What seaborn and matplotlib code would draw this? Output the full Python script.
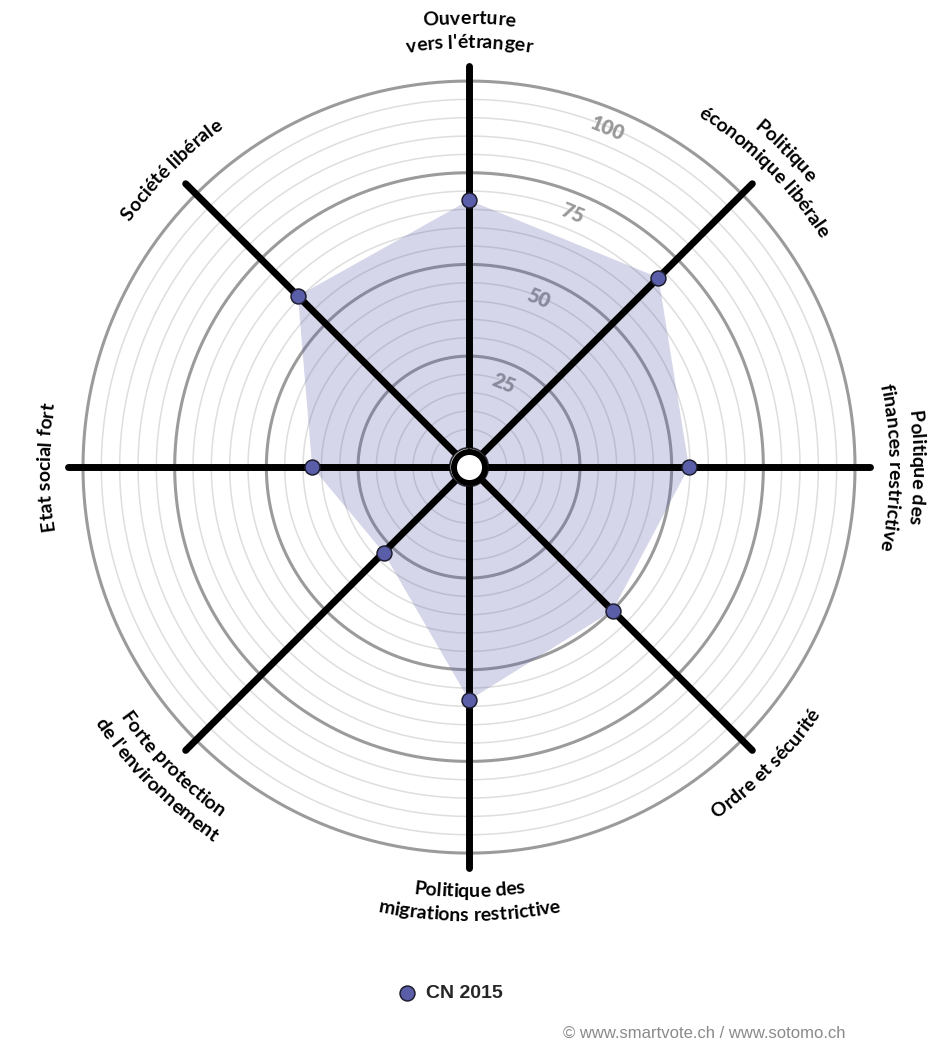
import numpy as np
import matplotlib
matplotlib.use('Agg')
import matplotlib.pyplot as plt
import seaborn as sns
import pandas as pd
from matplotlib.font_manager import FontProperties, findfont, get_font

# ── data ──────────────────────────────────────────
axis_labels = [
    ["Ouverture", "vers l'étranger"],
    ["Politique", "économique libérale"],
    ["Politique des", "finances restrictive"],
    ["Ordre et sécurité"],
    ["Politique des", "migrations restrictive"],
    ["Forte protection", "de l'environnement"],
    ["Etat social fort"],
    ["Société libérale"],
]
axis_angles = [0, 45, 90, 135, 180, 225, 270, 315]   # compass degrees
cn_2015 = [67.5, 67.8, 54.7, 50.1, 58.3, 27.7, 37.5, 60.7]
series_name = "CN 2015"
minor_rings = list(range(5, 101, 5))
major_rings = [25, 50, 75, 100]
ring_labels = ["25", "50", "75", "100"]
credit = "© www.smartvote.ch / www.sotomo.ch"

# ── style ─────────────────────────────────────────
sns.set_theme(style="white")
plt.rcParams['font.family'] = ['Lato', 'DejaVu Sans']

POINT_COLOR = "#5a5da8"
R_ORIGIN = -5.26
R_MAX = 106
SPOKE_END = 104
AX_W = 0.8709

fig = plt.figure(figsize=(9.37, 10.62), dpi=100)
ax = fig.add_axes([0.0651, 0.1760, AX_W, 0.7684], projection='polar')
ax.set_theta_zero_location('N')
ax.set_theta_direction(-1)
ax.set_rlim(0, R_MAX)
ax.set_rorigin(R_ORIGIN)
ax.set_xticks([])
ax.set_yticks([])
ax.grid(False)
ax.spines['polar'].set_visible(False)
ax.set_facecolor('none')

# rings
full = np.linspace(0, 2 * np.pi, 721)
for v in minor_rings:
    if v in major_rings:
        continue
    ax.plot(full, np.full_like(full, v), color='#dedede', lw=1.1, zorder=1)
for v in major_rings:
    ax.plot(full, np.full_like(full, v), color='#9b9b9b', lw=2.2, zorder=2)

# ring value labels
for v, lab in zip(major_rings, ring_labels):
    ax.text(np.radians(22.3), v - 5.6, lab, rotation=-22.3, rotation_mode='anchor',
            ha='center', va='center', color='#999999', fontsize=14.5,
            fontweight='heavy', zorder=2)

# filled area
theta = np.radians(axis_angles)
ax.fill(np.append(theta, theta[0]), np.append(cn_2015, cn_2015[0]),
        color=POINT_COLOR, alpha=0.25, lw=0, zorder=3)

# spokes
for t in theta:
    ax.plot([t, t], [0, SPOKE_END], color='black', lw=5, solid_capstyle='round', zorder=4)

# points
df = pd.DataFrame({"theta": theta, "value": cn_2015})
sns.scatterplot(data=df, x="theta", y="value", ax=ax, s=115, color=POINT_COLOR,
                edgecolor='#1e1e30', linewidth=1.1, zorder=5, label=series_name,
                legend=False)
ax.set_xlabel("")
ax.set_ylabel("")

# centre hole
ax.scatter(0.5, 0.5, s=500, facecolor='white', edgecolor='black', linewidth=4.3,
           transform=ax.transAxes, zorder=6, clip_on=False)

# ── curved axis labels (one text per character) ───
prop = FontProperties(family='Lato', weight='bold', size=14)
font = get_font(findfont(prop))
font.set_size(prop.get_size_in_points(), fig.dpi)
HF = plt.rcParams['text.hinting_factor']


def ink_centres(s):
    # pen position + bearing -> centre of each glyph's ink, in pixels
    # (bearing/width come pre-divided by the hinting factor, the advance does not)
    pen, centres = 0.0, []
    for ch in s:
        g = font.load_char(ord(ch))
        centres.append(pen + (g.horiBearingX + g.width / 2) / 64)
        pen += g.horiAdvance / (64 * HF)
    return np.array(centres), pen


def radius_px(r):
    return (r - R_ORIGIN) / (R_MAX - R_ORIGIN) * (AX_W * fig.bbox.width) / 2


def curved_text(ang, r, s, upper):
    R = radius_px(r)
    centres, total = ink_centres(s)
    for ch, c in zip(s, centres):
        if ch == ' ':
            continue
        dphi = np.degrees((c - total / 2) / R)
        if upper:
            phi = ang + dphi
            rot = -phi
        else:
            phi = ang - dphi
            rot = 180 - phi
        ax.text(np.radians(phi), r, ch, rotation=rot, rotation_mode='anchor',
                ha='center', va='baseline', fontproperties=prop, color='black',
                zorder=7, clip_on=False)


for ang, lines in zip(axis_angles, axis_labels):
    upper = ang not in (135, 180, 225)
    if upper:
        radii = [115.5, 109] if len(lines) == 2 else [109]
    else:
        radii = [112, 118.5]
    for s, r in zip(lines, radii):
        curved_text(ang, r, s, upper)

# ── legend & credit ───────────────────────────────
handles, labels = ax.get_legend_handles_labels()
fig.legend(handles, labels, loc='center', bbox_to_anchor=(0.475, 0.065), frameon=False,
           handletextpad=0.0, prop=FontProperties(family='Liberation Sans', weight='bold', size=14))
fig.text(0.902, 0.027, credit, ha='right', va='center', color='#8a8a8a',
         fontsize=12, family='Liberation Sans')

fig.savefig('out.png', dpi=100)
